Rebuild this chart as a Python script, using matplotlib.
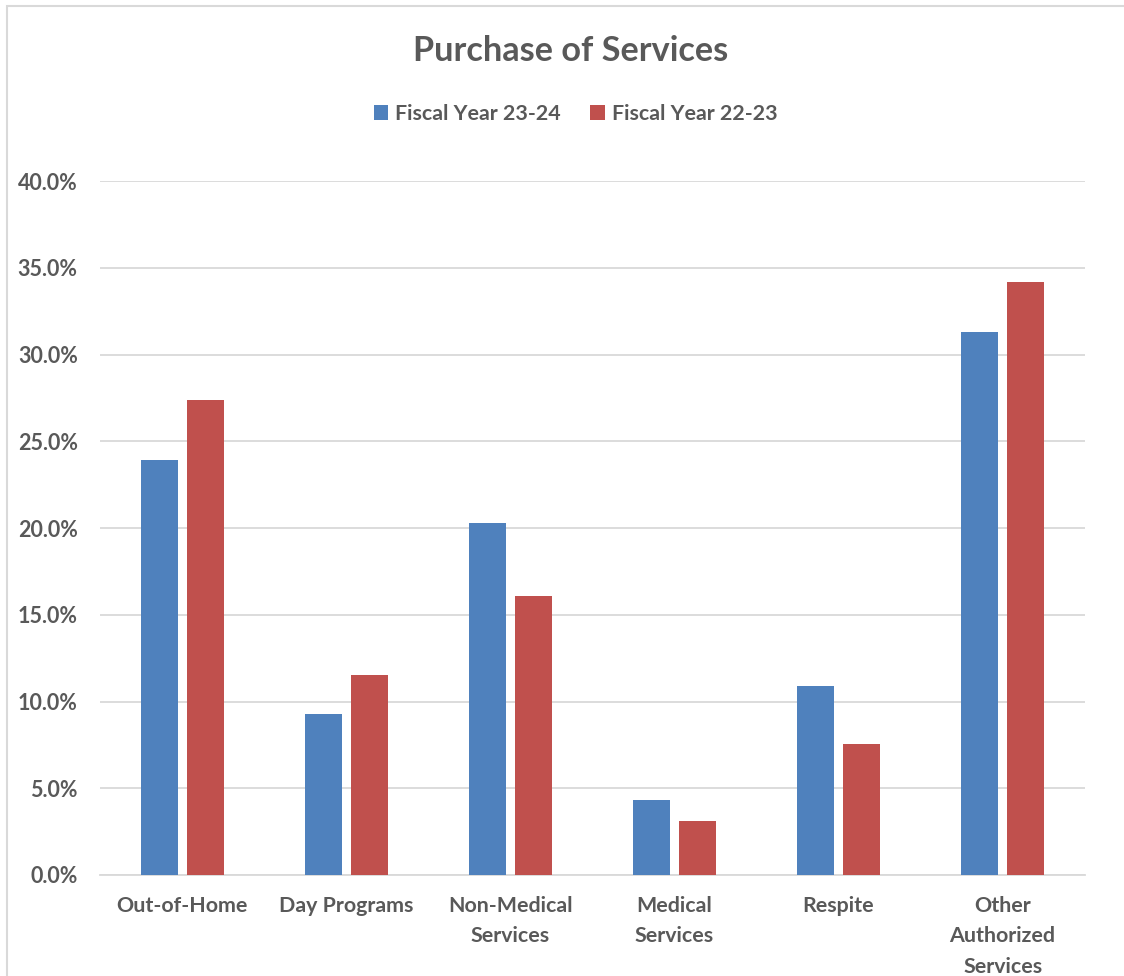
import numpy as np
import matplotlib.pyplot as plt
from matplotlib.patches import Rectangle
from matplotlib.ticker import FuncFormatter

categories = ["Out-of-Home", "Day Programs", "Non-Medical\nServices", "Medical\nServices",
              "Respite", "Other\nAuthorized\nServices"]
fy_23_24 = [23.9, 9.3, 20.3, 4.3, 10.9, 31.3]
fy_22_23 = [27.4, 11.5, 16.1, 3.1, 7.55, 34.2]
series_labels = ["Fiscal Year 23-24", "Fiscal Year 22-23"]

plt.rcParams['font.family'] = ['Lato', 'DejaVu Sans']
text_color = "#595959"
blue = "#4f81bd"
red = "#c0504d"

fig = plt.figure(figsize=(11.24, 9.76), dpi=100)
ax = fig.add_axes([0.089, 0.1035, 0.876, 0.711])

x = np.arange(len(categories))
w = 0.225
ax.bar(x - 0.14, fy_23_24, w, color=blue, label=series_labels[0], zorder=3)
ax.bar(x + 0.14, fy_22_23, w, color=red, label=series_labels[1], zorder=3)

ax.set_xlim(-0.5, len(categories) - 0.5)
ax.set_ylim(0, 40)
ax.set_yticks(np.arange(0, 41, 5))
ax.yaxis.set_major_formatter(FuncFormatter(lambda v, p: f"{v:.1f}%"))
ax.set_xticks(x)
ax.set_xticklabels(categories, fontsize=15.4, fontweight="bold", color=text_color,
                   linespacing=1.65)
for lbl in ax.get_yticklabels():
    lbl.set_fontsize(15.5)
    lbl.set_fontweight("bold")
    lbl.set_color(text_color)
ax.tick_params(axis="both", length=0)
ax.tick_params(axis="x", pad=15)
ax.tick_params(axis="y", pad=16)
ax.grid(axis="y", color="#d9d9d9", linewidth=1.3, zorder=0)
for s in ["top", "right", "left"]:
    ax.spines[s].set_visible(False)
ax.spines["bottom"].set_color("#d9d9d9")
ax.spines["bottom"].set_linewidth(1.3)

fig.text(0.508, 0.948, "Purchase of Services", ha="center", va="center",
         fontsize=24.7, fontweight="bold", color=text_color)
fig.legend(loc="center", bbox_to_anchor=(0.512, 0.883), ncol=2, frameon=False,
           prop={"size": 15.4, "weight": "bold"}, labelcolor=text_color,
           handlelength=0.7, handleheight=0.7, handletextpad=0.3, columnspacing=1.4)

fig.patches.append(Rectangle((0.006, -0.1), 1.5, 0.1 + 0.9939, transform=fig.transFigure,
                             fill=False, edgecolor="#d9d9d9", linewidth=1.5))

fig.savefig("out.png", dpi=100)
